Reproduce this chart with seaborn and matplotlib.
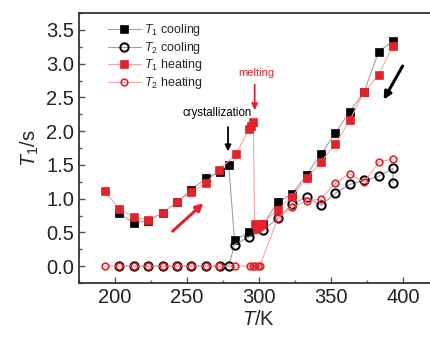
import numpy as np
import pandas as pd
import seaborn as sns
import matplotlib.pyplot as plt
from matplotlib.ticker import MultipleLocator

# T1 cooling (measured from 393 K downwards)
t1_cool_T = [393, 383, 373, 363, 353, 343, 333, 323, 313, 303, 293, 283, 279,
             273, 263, 253, 243, 233, 223, 213, 203]
t1_cool_v = [3.34, 3.17, 2.58, 2.29, 1.97, 1.66, 1.35, 1.07, 0.95, 0.62, 0.51, 0.38, 1.50,
             1.40, 1.30, 1.13, 0.95, 0.79, 0.67, 0.64, 0.78]

# T2 cooling
t2_cool_T = [393, 393, 383, 373, 363, 353, 343, 333, 323, 313, 303, 293, 283, 279,
             273, 263, 253, 243, 233, 223, 213, 203]
t2_cool_v = [1.23, 1.45, 1.33, 1.27, 1.21, 1.08, 0.90, 1.02, 0.92, 0.71, 0.53, 0.43, 0.32, 0.0,
             0.0, 0.0, 0.0, 0.0, 0.0, 0.0, 0.0, 0.0]

# T1 heating
t1_heat_T = [193, 203, 213, 223, 233, 243, 253, 263, 272, 284, 293, 294.5, 296,
             297, 298.5, 300, 302, 313, 323, 333, 343, 353, 363, 373, 383, 393]
t1_heat_v = [1.11, 0.84, 0.73, 0.69, 0.79, 0.95, 1.10, 1.23, 1.42, 1.66, 2.03, 2.08, 2.14,
             0.62, 0.55, 0.60, 0.63, 0.83, 1.03, 1.30, 1.54, 1.81, 2.16, 2.58, 2.83, 3.26]

# T2 heating
t2_heat_T = [193, 203, 213, 223, 233, 243, 253, 263, 272, 283, 294, 296, 297.5, 299, 300.5,
             313, 323, 333, 343, 353, 363, 373, 383, 393]
t2_heat_v = [0.0, 0.0, 0.0, 0.0, 0.0, 0.0, 0.0, 0.0, 0.0, 0.0, 0.0, 0.0, 0.0, 0.0, 0.0,
             0.71, 0.87, 0.97, 0.99, 1.23, 1.37, 1.24, 1.54, 1.59]

sns.set_style('ticks')
plt.rcParams['font.family'] = ['Liberation Sans', 'DejaVu Sans']
plt.rcParams['mathtext.fontset'] = 'custom'
plt.rcParams['mathtext.it'] = 'Liberation Sans:italic'
plt.rcParams['mathtext.rm'] = 'Liberation Sans'

red = '#e3232c'
fig = plt.figure(figsize=(4.3, 3.38), dpi=100)
ax = fig.add_axes([79 / 430, 55 / 338, 360 / 430, 270 / 338])

series = [
    (t1_cool_T, t1_cool_v, '$T_1$ cooling', 's', 'black', 'black', '#a0a0a0', 5.6, 0.5),
    (t2_cool_T, t2_cool_v, '$T_2$ cooling', 'o', 'none', 'black', '#a0a0a0', 6.0, 1.4),
    (t1_heat_T, t1_heat_v, '$T_1$ heating', 's', red, red, '#f4a5a5', 5.6, 0.5),
    (t2_heat_T, t2_heat_v, '$T_2$ heating', 'o', 'none', red, '#f4a5a5', 4.8, 1.2),
]
for T, v, lab, mk, fc, ec, lc, ms, mew in series:
    df = pd.DataFrame({'T': T, 'v': v})
    sns.lineplot(data=df, x='T', y='v', sort=False, estimator=None, ax=ax,
                 color=lc, lw=0.8, marker=mk, markersize=ms,
                 markerfacecolor=fc, markeredgecolor=ec, markeredgewidth=mew,
                 label=lab)

ax.set_xlim(175, 425)
ax.set_ylim(-0.25, 3.75)
ax.xaxis.set_minor_locator(MultipleLocator(25))
ax.yaxis.set_minor_locator(MultipleLocator(0.25))
ax.set_xticks([200, 250, 300, 350, 400])
ax.set_yticks(np.arange(0, 3.51, 0.5))
ax.set_yticklabels([f'{t:.1f}' for t in np.arange(0, 3.51, 0.5)])
ax.tick_params(which='both', direction='in', width=1, color='#555555',
               labelsize=14.5, labelcolor='#222222')
ax.tick_params(which='major', length=4)
ax.tick_params(which='minor', length=2.5)
for s in ['left', 'bottom', 'top', 'right']:
    ax.spines[s].set_linewidth(1.3)
    ax.spines[s].set_color('#333333')

ax.set_xlabel('$T$/K', fontsize=14.5, labelpad=2)
ax.set_ylabel('$T_1$/s', fontsize=14.5, labelpad=4)

ax.legend(loc='upper left', bbox_to_anchor=(0.055, 1.0), frameon=False,
          fontsize=9, handlelength=2.6, handletextpad=0.3, labelspacing=0.12,
          borderaxespad=0.35)

# annotations
ax.text(270.8, 2.27, 'crystallization', fontsize=8.3, ha='center', va='center',
        color='black')
ax.annotate('', xy=(278.5, 1.66), xytext=(278.5, 2.10),
            arrowprops=dict(arrowstyle='-|>', color='black', lw=1.3, mutation_scale=9))
ax.text(298.3, 2.86, 'melting', fontsize=8, ha='center', va='center', color=red)
ax.annotate('', xy=(297, 2.27), xytext=(297, 2.73),
            arrowprops=dict(arrowstyle='-|>', color=red, lw=1.3, mutation_scale=9))
ax.annotate('', xy=(262.9, 0.96), xytext=(238.6, 0.49),
            arrowprops=dict(arrowstyle='-|>', color=red, lw=2.2, mutation_scale=11))
ax.annotate('', xy=(385.6, 2.43), xytext=(400.7, 3.0),
            arrowprops=dict(arrowstyle='-|>', color='black', lw=2.2, mutation_scale=11))

fig.savefig('out.png', dpi=100)
